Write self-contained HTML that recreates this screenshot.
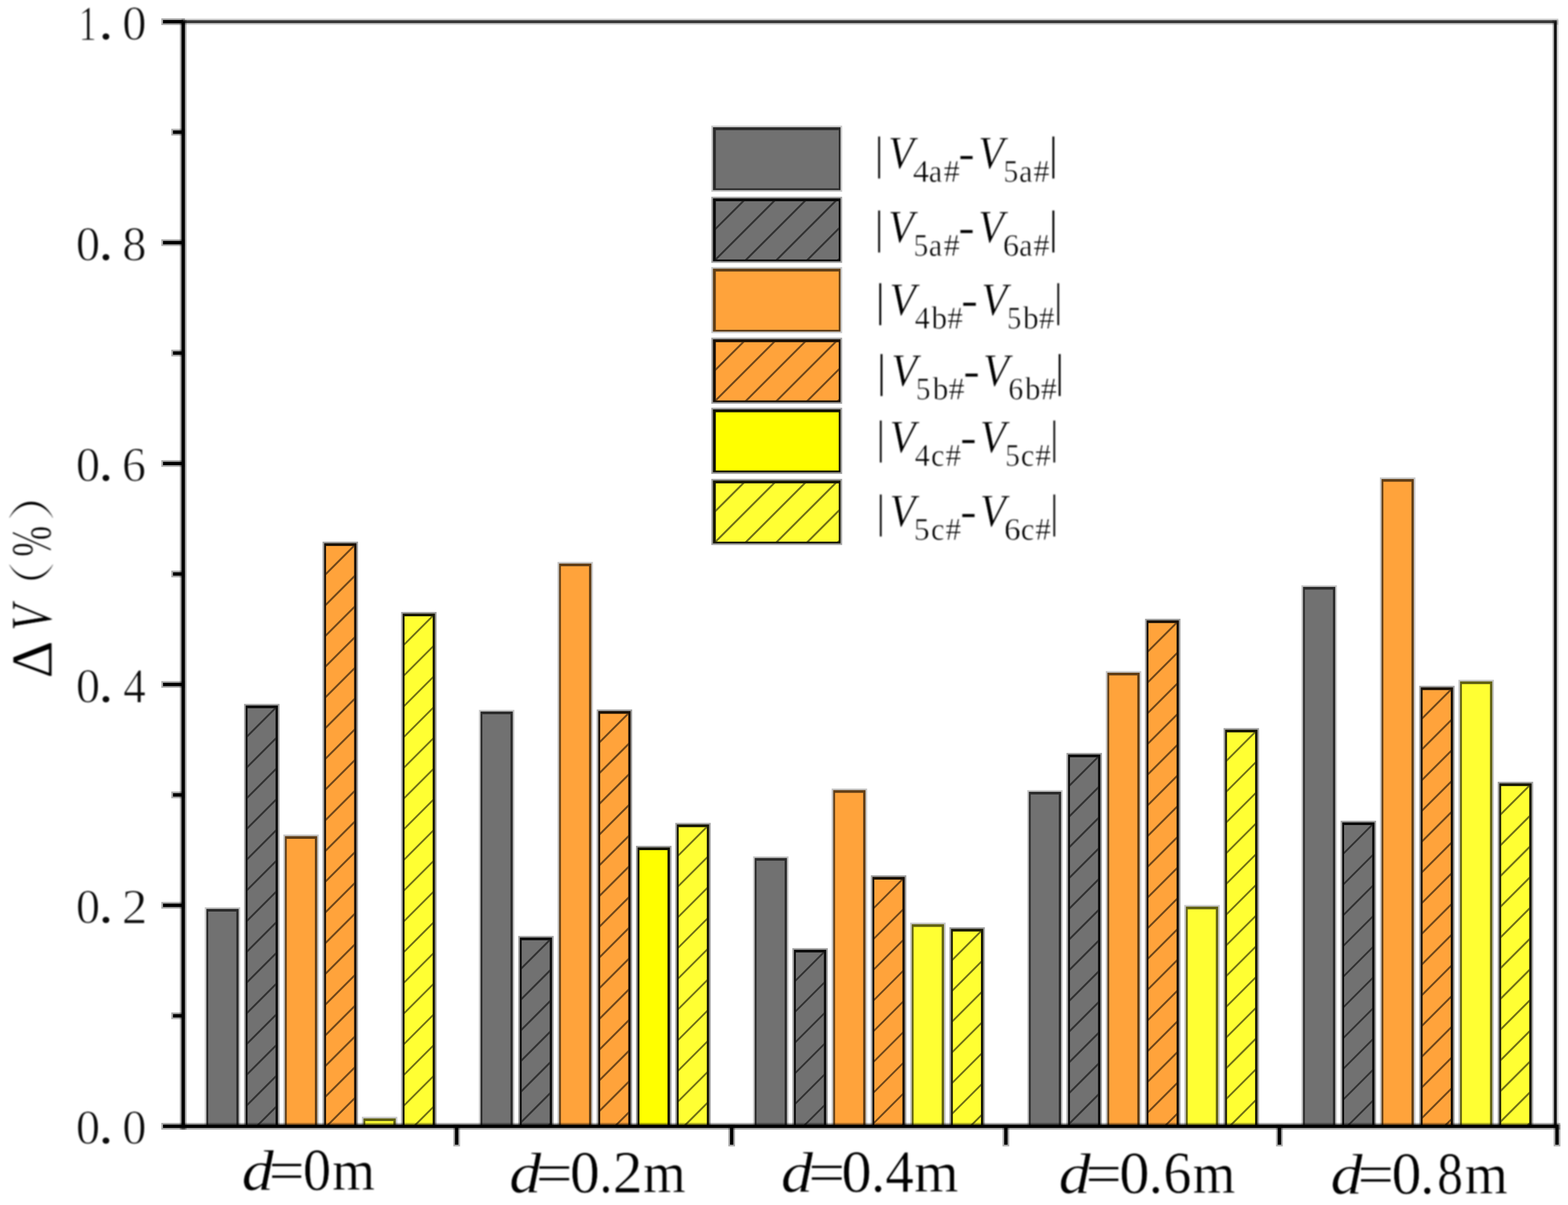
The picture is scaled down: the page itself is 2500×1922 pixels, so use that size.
<!DOCTYPE html>
<html lang="zh"><head><meta charset="utf-8"><title>ΔV（%） bar chart</title>
<style>html,body{margin:0;padding:0;background:#fff}body{width:2500px;height:1922px;overflow:hidden}svg{display:block}.s{filter:blur(0.5px)}.t{filter:blur(0.9px)}text{font-family:"Liberation Serif","Noto Serif CJK SC",serif;fill:#000;white-space:pre;stroke:#fff;stroke-width:0.7px;stroke-linejoin:round}.it{font-style:italic}.yt text{font-size:78.5px;fill:#0a0a0a;stroke-width:1.2px}.yd{font-size:95.0px}.xl{font-size:91.0px}.xd{font-size:95.0px}.lg{font-size:74.5px}.sub{font-size:51.5px}.cj{font-family:"Noto Serif CJK SC","Liberation Serif",serif}.thin{stroke-width:1.5px}.thin2{stroke-width:1.0px}</style></head><body>
<svg width="2500" height="1922" viewBox="0 0 2500 1922" role="img" aria-label="Bar chart of ΔV (%) for d = 0 m to 0.8 m">
<rect width="2500" height="1922" fill="#fff"/>
<g id="frame" class="s">
<rect x="289.5" y="29.7" width="2195.1" height="9.8" fill="#000" fill-opacity="0.2"/><rect x="292.1" y="32.3" width="2189.9" height="4.6" fill="#383838"/>
<rect x="2474.9" y="32" width="9.8" height="1767" fill="#000" fill-opacity="0.2"/><rect x="2477.5" y="34.6" width="4.6" height="1761.8" fill="#141414"/>
</g>
<g id="bars" class="s">
<rect x="326.5" y="1447.1" width="56.6" height="349.3" fill="#000" fill-opacity="0.22"/><rect x="329.1" y="1449.7" width="51.4" height="346.7" fill="#2b2b2b"/><rect x="332" y="1454" width="44.8" height="342.4" fill="#717171"/>
<rect x="389.1" y="1122.7" width="56.6" height="673.7" fill="#000" fill-opacity="0.36"/><rect x="391.7" y="1125.3" width="51.4" height="671.1" fill="#0b0b0b"/><rect x="394.6" y="1129.6" width="44.8" height="666.8" fill="#717171"/><clipPath id="c1"><rect x="394.6" y="1129.6" width="44.8" height="666.8"/></clipPath><path d="M391.6 1128.1L442.4 1077.3M391.6 1177.1L442.4 1126.3M391.6 1226.1L442.4 1175.3M391.6 1275.1L442.4 1224.3M391.6 1324.1L442.4 1273.3M391.6 1373.1L442.4 1322.3M391.6 1422.1L442.4 1371.3M391.6 1471.1L442.4 1420.3M391.6 1520.1L442.4 1469.3M391.6 1569.1L442.4 1518.3M391.6 1618.1L442.4 1567.3M391.6 1667.1L442.4 1616.3M391.6 1716.1L442.4 1665.3M391.6 1765.1L442.4 1714.3M391.6 1814.1L442.4 1763.3" stroke="#000" stroke-opacity="0.56" stroke-width="3.0" fill="none" clip-path="url(#c1)"/>
<rect x="451.7" y="1331.1" width="56.6" height="465.3" fill="#000" fill-opacity="0.22"/><rect x="454.3" y="1333.7" width="51.4" height="462.7" fill="#613e16"/><rect x="457.2" y="1338" width="44.8" height="458.4" fill="#ffa33b"/>
<rect x="514.3" y="863.9" width="56.6" height="932.5" fill="#000" fill-opacity="0.36"/><rect x="516.9" y="866.5" width="51.4" height="929.9" fill="#191006"/><rect x="519.8" y="870.8" width="44.8" height="925.6" fill="#ffa33b"/><clipPath id="c2"><rect x="519.8" y="870.8" width="44.8" height="925.6"/></clipPath><path d="M516.8 869.3L567.6 818.5M516.8 918.3L567.6 867.5M516.8 967.3L567.6 916.5M516.8 1016.3L567.6 965.5M516.8 1065.3L567.6 1014.5M516.8 1114.3L567.6 1063.5M516.8 1163.3L567.6 1112.5M516.8 1212.3L567.6 1161.5M516.8 1261.3L567.6 1210.5M516.8 1310.3L567.6 1259.5M516.8 1359.3L567.6 1308.5M516.8 1408.3L567.6 1357.5M516.8 1457.3L567.6 1406.5M516.8 1506.3L567.6 1455.5M516.8 1555.3L567.6 1504.5M516.8 1604.3L567.6 1553.5M516.8 1653.3L567.6 1602.5M516.8 1702.3L567.6 1651.5M516.8 1751.3L567.6 1700.5M516.8 1800.3L567.6 1749.5M516.8 1849.3L567.6 1798.5" stroke="#000" stroke-opacity="0.56" stroke-width="3.0" fill="none" clip-path="url(#c2)"/>
<rect x="576.9" y="1781.3" width="56.6" height="15.1" fill="#000" fill-opacity="0.22"/><rect x="579.5" y="1783.9" width="51.4" height="12.5" fill="#616113"/><rect x="582.4" y="1788.2" width="44.8" height="8.2" fill="#ffff33"/>
<rect x="639.5" y="976.1" width="56.6" height="820.3" fill="#000" fill-opacity="0.36"/><rect x="642.1" y="978.7" width="51.4" height="817.7" fill="#191905"/><rect x="645" y="983" width="44.8" height="813.4" fill="#ffff33"/><clipPath id="c3"><rect x="645" y="983" width="44.8" height="813.4"/></clipPath><path d="M642 981.5L692.8 930.7M642 1030.5L692.8 979.7M642 1079.5L692.8 1028.7M642 1128.5L692.8 1077.7M642 1177.5L692.8 1126.7M642 1226.5L692.8 1175.7M642 1275.5L692.8 1224.7M642 1324.5L692.8 1273.7M642 1373.5L692.8 1322.7M642 1422.5L692.8 1371.7M642 1471.5L692.8 1420.7M642 1520.5L692.8 1469.7M642 1569.5L692.8 1518.7M642 1618.5L692.8 1567.7M642 1667.5L692.8 1616.7M642 1716.5L692.8 1665.7M642 1765.5L692.8 1714.7M642 1814.5L692.8 1763.7" stroke="#000" stroke-opacity="0.56" stroke-width="3.0" fill="none" clip-path="url(#c3)"/>
<rect x="763.6" y="1132.3" width="56.6" height="664.1" fill="#000" fill-opacity="0.22"/><rect x="766.2" y="1134.9" width="51.4" height="661.5" fill="#2b2b2b"/><rect x="769.1" y="1139.2" width="44.8" height="657.2" fill="#717171"/>
<rect x="826.2" y="1492.8" width="56.6" height="303.6" fill="#000" fill-opacity="0.36"/><rect x="828.8" y="1495.4" width="51.4" height="301" fill="#0b0b0b"/><rect x="831.7" y="1499.7" width="44.8" height="296.7" fill="#717171"/><clipPath id="c4"><rect x="831.7" y="1499.7" width="44.8" height="296.7"/></clipPath><path d="M828.7 1498.2L879.5 1447.4M828.7 1547.2L879.5 1496.4M828.7 1596.2L879.5 1545.4M828.7 1645.2L879.5 1594.4M828.7 1694.2L879.5 1643.4M828.7 1743.2L879.5 1692.4M828.7 1792.2L879.5 1741.4M828.7 1841.2L879.5 1790.4" stroke="#000" stroke-opacity="0.56" stroke-width="3.0" fill="none" clip-path="url(#c4)"/>
<rect x="888.8" y="896.3" width="56.6" height="900.1" fill="#000" fill-opacity="0.22"/><rect x="891.4" y="898.9" width="51.4" height="897.5" fill="#613e16"/><rect x="894.3" y="903.2" width="44.8" height="893.2" fill="#ffa33b"/>
<rect x="951.4" y="1131.6" width="56.6" height="664.8" fill="#000" fill-opacity="0.36"/><rect x="954" y="1134.2" width="51.4" height="662.2" fill="#191006"/><rect x="956.9" y="1138.5" width="44.8" height="657.9" fill="#ffa33b"/><clipPath id="c5"><rect x="956.9" y="1138.5" width="44.8" height="657.9"/></clipPath><path d="M953.9 1137L1004.7 1086.2M953.9 1186L1004.7 1135.2M953.9 1235L1004.7 1184.2M953.9 1284L1004.7 1233.2M953.9 1333L1004.7 1282.2M953.9 1382L1004.7 1331.2M953.9 1431L1004.7 1380.2M953.9 1480L1004.7 1429.2M953.9 1529L1004.7 1478.2M953.9 1578L1004.7 1527.2M953.9 1627L1004.7 1576.2M953.9 1676L1004.7 1625.2M953.9 1725L1004.7 1674.2M953.9 1774L1004.7 1723.2M953.9 1823L1004.7 1772.2" stroke="#000" stroke-opacity="0.56" stroke-width="3.0" fill="none" clip-path="url(#c5)"/>
<rect x="1014" y="1349.1" width="56.6" height="447.3" fill="#000" fill-opacity="0.38"/><rect x="1016.6" y="1351.7" width="51.4" height="444.7" fill="#121200"/><rect x="1019.5" y="1356" width="44.8" height="440.4" fill="#ffff00"/>
<rect x="1076.6" y="1312.5" width="56.6" height="483.9" fill="#000" fill-opacity="0.36"/><rect x="1079.2" y="1315.1" width="51.4" height="481.3" fill="#191905"/><rect x="1082.1" y="1319.4" width="44.8" height="477" fill="#ffff33"/><clipPath id="c6"><rect x="1082.1" y="1319.4" width="44.8" height="477"/></clipPath><path d="M1079.1 1317.9L1129.9 1267.1M1079.1 1366.9L1129.9 1316.1M1079.1 1415.9L1129.9 1365.1M1079.1 1464.9L1129.9 1414.1M1079.1 1513.9L1129.9 1463.1M1079.1 1562.9L1129.9 1512.1M1079.1 1611.9L1129.9 1561.1M1079.1 1660.9L1129.9 1610.1M1079.1 1709.9L1129.9 1659.1M1079.1 1758.9L1129.9 1708.1M1079.1 1807.9L1129.9 1757.1" stroke="#000" stroke-opacity="0.56" stroke-width="3.0" fill="none" clip-path="url(#c6)"/>
<rect x="1200.7" y="1365.9" width="56.6" height="430.5" fill="#000" fill-opacity="0.22"/><rect x="1203.3" y="1368.5" width="51.4" height="427.9" fill="#2b2b2b"/><rect x="1206.2" y="1372.8" width="44.8" height="423.6" fill="#717171"/>
<rect x="1263.3" y="1512.3" width="56.6" height="284.1" fill="#000" fill-opacity="0.36"/><rect x="1265.9" y="1514.9" width="51.4" height="281.5" fill="#0b0b0b"/><rect x="1268.8" y="1519.2" width="44.8" height="277.2" fill="#717171"/><clipPath id="c7"><rect x="1268.8" y="1519.2" width="44.8" height="277.2"/></clipPath><path d="M1265.8 1517.7L1316.6 1466.9M1265.8 1566.7L1316.6 1515.9M1265.8 1615.7L1316.6 1564.9M1265.8 1664.7L1316.6 1613.9M1265.8 1713.7L1316.6 1662.9M1265.8 1762.7L1316.6 1711.9M1265.8 1811.7L1316.6 1760.9" stroke="#000" stroke-opacity="0.56" stroke-width="3.0" fill="none" clip-path="url(#c7)"/>
<rect x="1325.9" y="1257.7" width="56.6" height="538.7" fill="#000" fill-opacity="0.22"/><rect x="1328.5" y="1260.3" width="51.4" height="536.1" fill="#613e16"/><rect x="1331.4" y="1264.6" width="44.8" height="531.8" fill="#ffa33b"/>
<rect x="1388.5" y="1396.1" width="56.6" height="400.3" fill="#000" fill-opacity="0.36"/><rect x="1391.1" y="1398.7" width="51.4" height="397.7" fill="#191006"/><rect x="1394" y="1403" width="44.8" height="393.4" fill="#ffa33b"/><clipPath id="c8"><rect x="1394" y="1403" width="44.8" height="393.4"/></clipPath><path d="M1391 1401.5L1441.8 1350.7M1391 1450.5L1441.8 1399.7M1391 1499.5L1441.8 1448.7M1391 1548.5L1441.8 1497.7M1391 1597.5L1441.8 1546.7M1391 1646.5L1441.8 1595.7M1391 1695.5L1441.8 1644.7M1391 1744.5L1441.8 1693.7M1391 1793.5L1441.8 1742.7M1391 1842.5L1441.8 1791.7" stroke="#000" stroke-opacity="0.56" stroke-width="3.0" fill="none" clip-path="url(#c8)"/>
<rect x="1451.1" y="1471.6" width="56.6" height="324.8" fill="#000" fill-opacity="0.22"/><rect x="1453.7" y="1474.2" width="51.4" height="322.2" fill="#616113"/><rect x="1456.6" y="1478.5" width="44.8" height="317.9" fill="#ffff33"/>
<rect x="1513.7" y="1478.9" width="56.6" height="317.5" fill="#000" fill-opacity="0.36"/><rect x="1516.3" y="1481.5" width="51.4" height="314.9" fill="#191905"/><rect x="1519.2" y="1485.8" width="44.8" height="310.6" fill="#ffff33"/><clipPath id="c9"><rect x="1519.2" y="1485.8" width="44.8" height="310.6"/></clipPath><path d="M1516.2 1484.3L1567 1433.5M1516.2 1533.3L1567 1482.5M1516.2 1582.3L1567 1531.5M1516.2 1631.3L1567 1580.5M1516.2 1680.3L1567 1629.5M1516.2 1729.3L1567 1678.5M1516.2 1778.3L1567 1727.5M1516.2 1827.3L1567 1776.5" stroke="#000" stroke-opacity="0.56" stroke-width="3.0" fill="none" clip-path="url(#c9)"/>
<rect x="1637.8" y="1260.3" width="56.6" height="536.1" fill="#000" fill-opacity="0.22"/><rect x="1640.4" y="1262.9" width="51.4" height="533.5" fill="#2b2b2b"/><rect x="1643.3" y="1267.2" width="44.8" height="529.2" fill="#717171"/>
<rect x="1700.4" y="1200.9" width="56.6" height="595.5" fill="#000" fill-opacity="0.36"/><rect x="1703" y="1203.5" width="51.4" height="592.9" fill="#0b0b0b"/><rect x="1705.9" y="1207.8" width="44.8" height="588.6" fill="#717171"/><clipPath id="c10"><rect x="1705.9" y="1207.8" width="44.8" height="588.6"/></clipPath><path d="M1702.9 1206.3L1753.7 1155.5M1702.9 1255.3L1753.7 1204.5M1702.9 1304.3L1753.7 1253.5M1702.9 1353.3L1753.7 1302.5M1702.9 1402.3L1753.7 1351.5M1702.9 1451.3L1753.7 1400.5M1702.9 1500.3L1753.7 1449.5M1702.9 1549.3L1753.7 1498.5M1702.9 1598.3L1753.7 1547.5M1702.9 1647.3L1753.7 1596.5M1702.9 1696.3L1753.7 1645.5M1702.9 1745.3L1753.7 1694.5M1702.9 1794.3L1753.7 1743.5M1702.9 1843.3L1753.7 1792.5" stroke="#000" stroke-opacity="0.56" stroke-width="3.0" fill="none" clip-path="url(#c10)"/>
<rect x="1763" y="1070.4" width="56.6" height="726" fill="#000" fill-opacity="0.22"/><rect x="1765.6" y="1073" width="51.4" height="723.4" fill="#613e16"/><rect x="1768.5" y="1077.3" width="44.8" height="719.1" fill="#ffa33b"/>
<rect x="1825.6" y="986.9" width="56.6" height="809.5" fill="#000" fill-opacity="0.36"/><rect x="1828.2" y="989.5" width="51.4" height="806.9" fill="#191006"/><rect x="1831.1" y="993.8" width="44.8" height="802.6" fill="#ffa33b"/><clipPath id="c11"><rect x="1831.1" y="993.8" width="44.8" height="802.6"/></clipPath><path d="M1828.1 992.3L1878.9 941.5M1828.1 1041.3L1878.9 990.5M1828.1 1090.3L1878.9 1039.5M1828.1 1139.3L1878.9 1088.5M1828.1 1188.3L1878.9 1137.5M1828.1 1237.3L1878.9 1186.5M1828.1 1286.3L1878.9 1235.5M1828.1 1335.3L1878.9 1284.5M1828.1 1384.3L1878.9 1333.5M1828.1 1433.3L1878.9 1382.5M1828.1 1482.3L1878.9 1431.5M1828.1 1531.3L1878.9 1480.5M1828.1 1580.3L1878.9 1529.5M1828.1 1629.3L1878.9 1578.5M1828.1 1678.3L1878.9 1627.5M1828.1 1727.3L1878.9 1676.5M1828.1 1776.3L1878.9 1725.5M1828.1 1825.3L1878.9 1774.5" stroke="#000" stroke-opacity="0.56" stroke-width="3.0" fill="none" clip-path="url(#c11)"/>
<rect x="1888.2" y="1443.5" width="56.6" height="352.9" fill="#000" fill-opacity="0.22"/><rect x="1890.8" y="1446.1" width="51.4" height="350.3" fill="#616113"/><rect x="1893.7" y="1450.4" width="44.8" height="346" fill="#ffff33"/>
<rect x="1950.8" y="1161.3" width="56.6" height="635.1" fill="#000" fill-opacity="0.36"/><rect x="1953.4" y="1163.9" width="51.4" height="632.5" fill="#191905"/><rect x="1956.3" y="1168.2" width="44.8" height="628.2" fill="#ffff33"/><clipPath id="c12"><rect x="1956.3" y="1168.2" width="44.8" height="628.2"/></clipPath><path d="M1953.3 1166.7L2004.1 1115.9M1953.3 1215.7L2004.1 1164.9M1953.3 1264.7L2004.1 1213.9M1953.3 1313.7L2004.1 1262.9M1953.3 1362.7L2004.1 1311.9M1953.3 1411.7L2004.1 1360.9M1953.3 1460.7L2004.1 1409.9M1953.3 1509.7L2004.1 1458.9M1953.3 1558.7L2004.1 1507.9M1953.3 1607.7L2004.1 1556.9M1953.3 1656.7L2004.1 1605.9M1953.3 1705.7L2004.1 1654.9M1953.3 1754.7L2004.1 1703.9M1953.3 1803.7L2004.1 1752.9M1953.3 1852.7L2004.1 1801.9" stroke="#000" stroke-opacity="0.56" stroke-width="3.0" fill="none" clip-path="url(#c12)"/>
<rect x="2074.9" y="933.5" width="56.6" height="862.9" fill="#000" fill-opacity="0.22"/><rect x="2077.5" y="936.1" width="51.4" height="860.3" fill="#2b2b2b"/><rect x="2080.4" y="940.4" width="44.8" height="856" fill="#717171"/>
<rect x="2137.5" y="1309.1" width="56.6" height="487.3" fill="#000" fill-opacity="0.36"/><rect x="2140.1" y="1311.7" width="51.4" height="484.7" fill="#0b0b0b"/><rect x="2143" y="1316" width="44.8" height="480.4" fill="#717171"/><clipPath id="c13"><rect x="2143" y="1316" width="44.8" height="480.4"/></clipPath><path d="M2140 1314.5L2190.8 1263.7M2140 1363.5L2190.8 1312.7M2140 1412.5L2190.8 1361.7M2140 1461.5L2190.8 1410.7M2140 1510.5L2190.8 1459.7M2140 1559.5L2190.8 1508.7M2140 1608.5L2190.8 1557.7M2140 1657.5L2190.8 1606.7M2140 1706.5L2190.8 1655.7M2140 1755.5L2190.8 1704.7M2140 1804.5L2190.8 1753.7M2140 1853.5L2190.8 1802.7" stroke="#000" stroke-opacity="0.56" stroke-width="3.0" fill="none" clip-path="url(#c13)"/>
<rect x="2200.1" y="761.5" width="56.6" height="1034.9" fill="#000" fill-opacity="0.22"/><rect x="2202.7" y="764.1" width="51.4" height="1032.3" fill="#613e16"/><rect x="2205.6" y="768.4" width="44.8" height="1028" fill="#ffa33b"/>
<rect x="2262.7" y="1093.8" width="56.6" height="702.6" fill="#000" fill-opacity="0.36"/><rect x="2265.3" y="1096.4" width="51.4" height="700" fill="#191006"/><rect x="2268.2" y="1100.7" width="44.8" height="695.7" fill="#ffa33b"/><clipPath id="c14"><rect x="2268.2" y="1100.7" width="44.8" height="695.7"/></clipPath><path d="M2265.2 1099.2L2316 1048.4M2265.2 1148.2L2316 1097.4M2265.2 1197.2L2316 1146.4M2265.2 1246.2L2316 1195.4M2265.2 1295.2L2316 1244.4M2265.2 1344.2L2316 1293.4M2265.2 1393.2L2316 1342.4M2265.2 1442.2L2316 1391.4M2265.2 1491.2L2316 1440.4M2265.2 1540.2L2316 1489.4M2265.2 1589.2L2316 1538.4M2265.2 1638.2L2316 1587.4M2265.2 1687.2L2316 1636.4M2265.2 1736.2L2316 1685.4M2265.2 1785.2L2316 1734.4M2265.2 1834.2L2316 1783.4" stroke="#000" stroke-opacity="0.56" stroke-width="3.0" fill="none" clip-path="url(#c14)"/>
<rect x="2325.3" y="1084.3" width="56.6" height="712.1" fill="#000" fill-opacity="0.22"/><rect x="2327.9" y="1086.9" width="51.4" height="709.5" fill="#616113"/><rect x="2330.8" y="1091.2" width="44.8" height="705.2" fill="#ffff33"/>
<rect x="2387.9" y="1246.9" width="56.6" height="549.5" fill="#000" fill-opacity="0.36"/><rect x="2390.5" y="1249.5" width="51.4" height="546.9" fill="#191905"/><rect x="2393.4" y="1253.8" width="44.8" height="542.6" fill="#ffff33"/><clipPath id="c15"><rect x="2393.4" y="1253.8" width="44.8" height="542.6"/></clipPath><path d="M2390.4 1252.3L2441.2 1201.5M2390.4 1301.3L2441.2 1250.5M2390.4 1350.3L2441.2 1299.5M2390.4 1399.3L2441.2 1348.5M2390.4 1448.3L2441.2 1397.5M2390.4 1497.3L2441.2 1446.5M2390.4 1546.3L2441.2 1495.5M2390.4 1595.3L2441.2 1544.5M2390.4 1644.3L2441.2 1593.5M2390.4 1693.3L2441.2 1642.5M2390.4 1742.3L2441.2 1691.5M2390.4 1791.3L2441.2 1740.5M2390.4 1840.3L2441.2 1789.5" stroke="#000" stroke-opacity="0.56" stroke-width="3.0" fill="none" clip-path="url(#c15)"/>
</g>
<g id="axes" class="s">
<rect x="286.7" y="31.9" width="10.8" height="1769.9" fill="#000" fill-opacity="0.32"/><rect x="289.4" y="34.6" width="5.4" height="1764.5" fill="#000"/>
<rect x="289.4" y="1791" width="2198.3" height="10.8" fill="#000" fill-opacity="0.32"/><rect x="292.1" y="1793.7" width="2192.9" height="5.4" fill="#000"/>
<rect x="257.2" y="29.2" width="37.6" height="10.8" fill="#000" fill-opacity="0.32"/><rect x="259.9" y="31.9" width="32.2" height="5.4" fill="#000"/>
<rect x="273.1" y="205.4" width="21.7" height="10.8" fill="#000" fill-opacity="0.32"/><rect x="275.8" y="208.1" width="16.3" height="5.4" fill="#000"/>
<rect x="257.2" y="381.6" width="37.6" height="10.8" fill="#000" fill-opacity="0.32"/><rect x="259.9" y="384.3" width="32.2" height="5.4" fill="#000"/>
<rect x="273.1" y="557.7" width="21.7" height="10.8" fill="#000" fill-opacity="0.32"/><rect x="275.8" y="560.4" width="16.3" height="5.4" fill="#000"/>
<rect x="257.2" y="733.9" width="37.6" height="10.8" fill="#000" fill-opacity="0.32"/><rect x="259.9" y="736.6" width="32.2" height="5.4" fill="#000"/>
<rect x="273.1" y="910.1" width="21.7" height="10.8" fill="#000" fill-opacity="0.32"/><rect x="275.8" y="912.8" width="16.3" height="5.4" fill="#000"/>
<rect x="257.2" y="1086.3" width="37.6" height="10.8" fill="#000" fill-opacity="0.32"/><rect x="259.9" y="1089" width="32.2" height="5.4" fill="#000"/>
<rect x="273.1" y="1262.5" width="21.7" height="10.8" fill="#000" fill-opacity="0.32"/><rect x="275.8" y="1265.2" width="16.3" height="5.4" fill="#000"/>
<rect x="257.2" y="1438.6" width="37.6" height="10.8" fill="#000" fill-opacity="0.32"/><rect x="259.9" y="1441.3" width="32.2" height="5.4" fill="#000"/>
<rect x="273.1" y="1614.8" width="21.7" height="10.8" fill="#000" fill-opacity="0.32"/><rect x="275.8" y="1617.5" width="16.3" height="5.4" fill="#000"/>
<rect x="257.2" y="1791" width="37.6" height="10.8" fill="#000" fill-opacity="0.32"/><rect x="259.9" y="1793.7" width="32.2" height="5.4" fill="#000"/>
<rect x="722.7" y="1793.7" width="10.8" height="34.8" fill="#000" fill-opacity="0.32"/><rect x="725.4" y="1796.4" width="5.4" height="29.4" fill="#000"/>
<rect x="1161.2" y="1793.7" width="10.8" height="34.8" fill="#000" fill-opacity="0.32"/><rect x="1163.9" y="1796.4" width="5.4" height="29.4" fill="#000"/>
<rect x="1598.4" y="1793.7" width="10.8" height="34.8" fill="#000" fill-opacity="0.32"/><rect x="1601.1" y="1796.4" width="5.4" height="29.4" fill="#000"/>
<rect x="2034.5" y="1793.7" width="10.8" height="34.8" fill="#000" fill-opacity="0.32"/><rect x="2037.2" y="1796.4" width="5.4" height="29.4" fill="#000"/>
<rect x="2477.1" y="1793.7" width="10.8" height="34.8" fill="#000" fill-opacity="0.32"/><rect x="2479.8" y="1796.4" width="5.4" height="29.4" fill="#000"/>
</g>
<g id="yticks" class="yt t">
<text y="62.5"><tspan x="125.5" textLength="28.7" lengthAdjust="spacingAndGlyphs">1</tspan><tspan x="155.9" textLength="25.8" lengthAdjust="spacingAndGlyphs" class="yd">.</tspan><tspan x="195.0" textLength="38.5" lengthAdjust="spacingAndGlyphs">0</tspan></text>
<text y="414.9"><tspan x="121.0" textLength="38.6" lengthAdjust="spacingAndGlyphs">0</tspan><tspan x="155.9" textLength="25.8" lengthAdjust="spacingAndGlyphs" class="yd">.</tspan><tspan x="195.0" textLength="38.5" lengthAdjust="spacingAndGlyphs">8</tspan></text>
<text y="767.2"><tspan x="121.0" textLength="38.6" lengthAdjust="spacingAndGlyphs">0</tspan><tspan x="155.9" textLength="25.8" lengthAdjust="spacingAndGlyphs" class="yd">.</tspan><tspan x="194.6" textLength="38.2" lengthAdjust="spacingAndGlyphs">6</tspan></text>
<text y="1119.6"><tspan x="121.0" textLength="38.6" lengthAdjust="spacingAndGlyphs">0</tspan><tspan x="155.9" textLength="25.8" lengthAdjust="spacingAndGlyphs" class="yd">.</tspan><tspan x="196.5" textLength="35.9" lengthAdjust="spacingAndGlyphs">4</tspan></text>
<text y="1471.9"><tspan x="121.0" textLength="38.6" lengthAdjust="spacingAndGlyphs">0</tspan><tspan x="155.9" textLength="25.8" lengthAdjust="spacingAndGlyphs" class="yd">.</tspan><tspan x="194.3" textLength="40.7" lengthAdjust="spacingAndGlyphs">2</tspan></text>
<text y="1824.3"><tspan x="121.0" textLength="38.6" lengthAdjust="spacingAndGlyphs">0</tspan><tspan x="155.9" textLength="25.8" lengthAdjust="spacingAndGlyphs" class="yd">.</tspan><tspan x="195.0" textLength="38.5" lengthAdjust="spacingAndGlyphs">0</tspan></text>
</g>
<g id="xlabels" class="xl t">
<text y="1898.3"><tspan x="385.5" textLength="51.0" lengthAdjust="spacingAndGlyphs" class="it">d</tspan><tspan x="428.6" textLength="57.3" lengthAdjust="spacingAndGlyphs">=</tspan><tspan x="483.0" textLength="44.8" lengthAdjust="spacingAndGlyphs" class="xd">0</tspan><tspan x="529.7" textLength="68.1" lengthAdjust="spacingAndGlyphs">m</tspan></text>
<text y="1902.2"><tspan x="812.0" textLength="51.0" lengthAdjust="spacingAndGlyphs" class="it">d</tspan><tspan x="854.3" textLength="58.8" lengthAdjust="spacingAndGlyphs">=</tspan><tspan x="908.8" class="xd">0</tspan><tspan x="955.5" textLength="21.2" lengthAdjust="spacingAndGlyphs" class="xd">.</tspan><tspan x="976.9" class="xd">2</tspan><tspan x="1025.3" textLength="68.1" lengthAdjust="spacingAndGlyphs">m</tspan></text>
<text y="1900.8"><tspan x="1245.3" textLength="51.0" lengthAdjust="spacingAndGlyphs" class="it">d</tspan><tspan x="1288.7" textLength="58.7" lengthAdjust="spacingAndGlyphs">=</tspan><tspan x="1341.6" textLength="48.3" lengthAdjust="spacingAndGlyphs" class="xd">0</tspan><tspan x="1388.8" textLength="22.6" lengthAdjust="spacingAndGlyphs" class="xd">.</tspan><tspan x="1411.5" textLength="45.5" lengthAdjust="spacingAndGlyphs" class="xd">4</tspan><tspan x="1457.4">m</tspan></text>
<text y="1902.9"><tspan x="1688.0" textLength="51.0" lengthAdjust="spacingAndGlyphs" class="it">d</tspan><tspan x="1730.8" textLength="57.9" lengthAdjust="spacingAndGlyphs">=</tspan><tspan x="1784.4" textLength="48.3" lengthAdjust="spacingAndGlyphs" class="xd">0</tspan><tspan x="1831.5" textLength="22.6" lengthAdjust="spacingAndGlyphs" class="xd">.</tspan><tspan x="1855.0" textLength="44.6" lengthAdjust="spacingAndGlyphs" class="xd">6</tspan><tspan x="1901.6" textLength="68.1" lengthAdjust="spacingAndGlyphs">m</tspan></text>
<text y="1904.3"><tspan x="2121.6" textLength="51.0" lengthAdjust="spacingAndGlyphs" class="it">d</tspan><tspan x="2164.4" textLength="57.9" lengthAdjust="spacingAndGlyphs">=</tspan><tspan x="2218.8" class="xd">0</tspan><tspan x="2264.6" textLength="22.4" lengthAdjust="spacingAndGlyphs" class="xd">.</tspan><tspan x="2291.4" textLength="40.9" lengthAdjust="spacingAndGlyphs" class="xd">8</tspan><tspan x="2335.2" textLength="68.8" lengthAdjust="spacingAndGlyphs">m</tspan></text>
</g>
<g id="ytitle" class="t" transform="translate(82.5 1100.0) rotate(-90)">
<text y="0" style="font-size:93.3px"><tspan x="17.9">Δ</tspan><tspan x="94.1" textLength="41.3" lengthAdjust="spacingAndGlyphs" dy="-1.2" class="it">V</tspan><tspan x="114.9" textLength="91.6" lengthAdjust="spacingAndGlyphs" dy="-2.4" class="cj thin" style="font-size:76.6px">（</tspan><tspan x="212.1" textLength="49.2" lengthAdjust="spacingAndGlyphs" dy="1.2" class="thin2" style="font-size:91.4px">%</tspan><tspan x="266.4" textLength="98.3" lengthAdjust="spacingAndGlyphs" dy="-1.2" class="cj thin" style="font-size:76.6px">）</tspan></text>
</g>
<g id="legend" class="s">
<rect x="1134.1" y="200.4" width="208.6" height="105.5" fill="#000" fill-opacity="0.22"/><rect x="1136.7" y="203" width="203.4" height="100.3" fill="#2b2b2b"/><rect x="1141.3" y="207.6" width="196" height="92.9" fill="#717171"/>
<rect x="1134.1" y="313.8" width="208.6" height="105.5" fill="#000" fill-opacity="0.36"/><rect x="1136.7" y="316.4" width="203.4" height="100.3" fill="#0b0b0b"/><rect x="1141.3" y="321" width="196" height="92.9" fill="#717171"/><clipPath id="c16"><rect x="1141.3" y="321" width="196" height="92.9"/></clipPath><path d="M1138.3 318.6L1340.3 116.6M1138.3 367.6L1340.3 165.6M1138.3 416.6L1340.3 214.6M1138.3 465.6L1340.3 263.6M1138.3 514.6L1340.3 312.6M1138.3 563.6L1340.3 361.6M1138.3 612.6L1340.3 410.6" stroke="#000" stroke-opacity="0.56" stroke-width="3.0" fill="none" clip-path="url(#c16)"/>
<rect x="1134.1" y="425.9" width="208.6" height="105.5" fill="#000" fill-opacity="0.22"/><rect x="1136.7" y="428.5" width="203.4" height="100.3" fill="#613e16"/><rect x="1141.3" y="433.1" width="196" height="92.9" fill="#ffa33b"/>
<rect x="1134.1" y="538.6" width="208.6" height="105.5" fill="#000" fill-opacity="0.36"/><rect x="1136.7" y="541.2" width="203.4" height="100.3" fill="#191006"/><rect x="1141.3" y="545.8" width="196" height="92.9" fill="#ffa33b"/><clipPath id="c17"><rect x="1141.3" y="545.8" width="196" height="92.9"/></clipPath><path d="M1138.3 543.4L1340.3 341.4M1138.3 592.4L1340.3 390.4M1138.3 641.4L1340.3 439.4M1138.3 690.4L1340.3 488.4M1138.3 739.4L1340.3 537.4M1138.3 788.4L1340.3 586.4M1138.3 837.4L1340.3 635.4" stroke="#000" stroke-opacity="0.56" stroke-width="3.0" fill="none" clip-path="url(#c17)"/>
<rect x="1134.1" y="650.4" width="208.6" height="105.5" fill="#000" fill-opacity="0.38"/><rect x="1136.7" y="653" width="203.4" height="100.3" fill="#121200"/><rect x="1141.3" y="657.6" width="196" height="92.9" fill="#ffff00"/>
<rect x="1134.1" y="763.8" width="208.6" height="105.5" fill="#000" fill-opacity="0.36"/><rect x="1136.7" y="766.4" width="203.4" height="100.3" fill="#191905"/><rect x="1141.3" y="771" width="196" height="92.9" fill="#ffff33"/><clipPath id="c18"><rect x="1141.3" y="771" width="196" height="92.9"/></clipPath><path d="M1138.3 768.6L1340.3 566.6M1138.3 817.6L1340.3 615.6M1138.3 866.6L1340.3 664.6M1138.3 915.6L1340.3 713.6M1138.3 964.6L1340.3 762.6M1138.3 1013.6L1340.3 811.6M1138.3 1062.6L1340.3 860.6" stroke="#000" stroke-opacity="0.56" stroke-width="3.0" fill="none" clip-path="url(#c18)"/>
</g>
<g id="legendtext" class="t">
<text class="lg" y="269.2"><tspan x="1394.2">|</tspan><tspan x="1416.1" textLength="41.4" lengthAdjust="spacingAndGlyphs" class="it">V</tspan><tspan x="1455.5" dy="21.2" class="sub">4</tspan><tspan x="1481.0" textLength="21.2" lengthAdjust="spacingAndGlyphs" class="sub">a</tspan><tspan x="1504.5" class="sub">#</tspan><tspan x="1528.1" textLength="25.9" lengthAdjust="spacingAndGlyphs" dy="-21.2">-</tspan><tspan x="1559.4" textLength="41.4" lengthAdjust="spacingAndGlyphs" class="it">V</tspan><tspan x="1599.9" textLength="23.5" lengthAdjust="spacingAndGlyphs" dy="21.2" class="sub">5</tspan><tspan x="1625.0" textLength="21.2" lengthAdjust="spacingAndGlyphs" class="sub">a</tspan><tspan x="1647.8" class="sub">#</tspan><tspan x="1671.9" dy="-21.2">|</tspan></text>
<text class="lg" y="387.1"><tspan x="1394.2">|</tspan><tspan x="1416.1" textLength="41.4" lengthAdjust="spacingAndGlyphs" class="it">V</tspan><tspan x="1456.6" textLength="23.5" lengthAdjust="spacingAndGlyphs" dy="21.2" class="sub">5</tspan><tspan x="1481.0" textLength="21.2" lengthAdjust="spacingAndGlyphs" class="sub">a</tspan><tspan x="1504.5" class="sub">#</tspan><tspan x="1528.1" textLength="25.9" lengthAdjust="spacingAndGlyphs" dy="-21.2">-</tspan><tspan x="1559.4" textLength="41.4" lengthAdjust="spacingAndGlyphs" class="it">V</tspan><tspan x="1599.0" dy="21.2" class="sub">6</tspan><tspan x="1625.0" textLength="21.2" lengthAdjust="spacingAndGlyphs" class="sub">a</tspan><tspan x="1647.8" class="sub">#</tspan><tspan x="1671.9" dy="-21.2">|</tspan></text>
<text class="lg" y="502.8"><tspan x="1396.0">|</tspan><tspan x="1418.1" textLength="42.1" lengthAdjust="spacingAndGlyphs" class="it">V</tspan><tspan x="1458.4" textLength="24.1" lengthAdjust="spacingAndGlyphs" dy="21.2" class="sub">4</tspan><tspan x="1484.9" textLength="25.0" lengthAdjust="spacingAndGlyphs" class="sub">b</tspan><tspan x="1510.2" textLength="24.9" lengthAdjust="spacingAndGlyphs" class="sub">#</tspan><tspan x="1532.2" textLength="26.9" lengthAdjust="spacingAndGlyphs" dy="-21.2">-</tspan><tspan x="1564.4" textLength="41.4" lengthAdjust="spacingAndGlyphs" class="it">V</tspan><tspan x="1605.7" textLength="22.6" lengthAdjust="spacingAndGlyphs" dy="21.2" class="sub">5</tspan><tspan x="1631.0" textLength="25.0" lengthAdjust="spacingAndGlyphs" class="sub">b</tspan><tspan x="1656.3" textLength="25.0" lengthAdjust="spacingAndGlyphs" class="sub">#</tspan><tspan x="1679.7" dy="-21.2">|</tspan></text>
<text class="lg" y="616.0"><tspan x="1398.1">|</tspan><tspan x="1421.1" textLength="41.4" lengthAdjust="spacingAndGlyphs" class="it">V</tspan><tspan x="1460.2" textLength="23.3" lengthAdjust="spacingAndGlyphs" dy="21.2" class="sub">5</tspan><tspan x="1487.0" textLength="25.0" lengthAdjust="spacingAndGlyphs" class="sub">b</tspan><tspan x="1512.3" class="sub">#</tspan><tspan x="1535.9" textLength="26.0" lengthAdjust="spacingAndGlyphs" dy="-21.2">-</tspan><tspan x="1567.2" textLength="41.4" lengthAdjust="spacingAndGlyphs" class="it">V</tspan><tspan x="1607.7" textLength="23.8" lengthAdjust="spacingAndGlyphs" dy="21.2" class="sub">6</tspan><tspan x="1634.5" textLength="24.4" lengthAdjust="spacingAndGlyphs" class="sub">b</tspan><tspan x="1659.2" class="sub">#</tspan><tspan x="1681.9" dy="-21.2">|</tspan></text>
<text class="lg" y="722.1"><tspan x="1396.7">|</tspan><tspan x="1418.2" textLength="41.4" lengthAdjust="spacingAndGlyphs" class="it">V</tspan><tspan x="1458.4" textLength="24.1" lengthAdjust="spacingAndGlyphs" dy="21.2" class="sub">4</tspan><tspan x="1484.5" textLength="21.4" lengthAdjust="spacingAndGlyphs" class="sub">c</tspan><tspan x="1507.4" textLength="24.9" lengthAdjust="spacingAndGlyphs" class="sub">#</tspan><tspan x="1530.9" textLength="26.0" lengthAdjust="spacingAndGlyphs" dy="-21.2">-</tspan><tspan x="1562.2" textLength="41.4" lengthAdjust="spacingAndGlyphs" class="it">V</tspan><tspan x="1602.8" textLength="23.3" lengthAdjust="spacingAndGlyphs" dy="21.2" class="sub">5</tspan><tspan x="1627.8" textLength="21.4" lengthAdjust="spacingAndGlyphs" class="sub">c</tspan><tspan x="1650.7" textLength="24.9" lengthAdjust="spacingAndGlyphs" class="sub">#</tspan><tspan x="1673.4" dy="-21.2">|</tspan></text>
<text class="lg" y="839.9"><tspan x="1396.7">|</tspan><tspan x="1418.2" textLength="41.4" lengthAdjust="spacingAndGlyphs" class="it">V</tspan><tspan x="1457.1" textLength="25.2" lengthAdjust="spacingAndGlyphs" dy="21.2" class="sub">5</tspan><tspan x="1484.5" textLength="21.4" lengthAdjust="spacingAndGlyphs" class="sub">c</tspan><tspan x="1507.4" textLength="24.9" lengthAdjust="spacingAndGlyphs" class="sub">#</tspan><tspan x="1530.9" textLength="26.0" lengthAdjust="spacingAndGlyphs" dy="-21.2">-</tspan><tspan x="1562.2" textLength="41.4" lengthAdjust="spacingAndGlyphs" class="it">V</tspan><tspan x="1601.0" textLength="26.2" lengthAdjust="spacingAndGlyphs" dy="21.2" class="sub">6</tspan><tspan x="1627.8" textLength="21.4" lengthAdjust="spacingAndGlyphs" class="sub">c</tspan><tspan x="1650.7" textLength="24.9" lengthAdjust="spacingAndGlyphs" class="sub">#</tspan><tspan x="1673.4" dy="-21.2">|</tspan></text>
</g>
</svg></body></html>
